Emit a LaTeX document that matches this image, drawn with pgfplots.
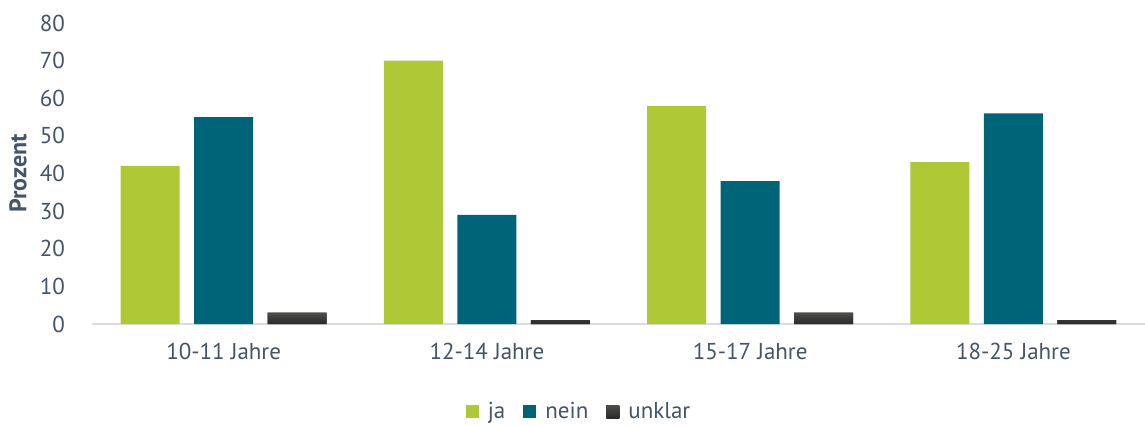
\documentclass[border=0pt]{standalone}
\usepackage{pgfplots}
\pgfplotsset{compat=1.18}
\usepackage{fontspec}
\setmainfont{PT Sans}
\definecolor{cja}{HTML}{AFC836}
\definecolor{cnein}{HTML}{006479}
\definecolor{cunk}{HTML}{2A2A26}
\definecolor{ctext}{HTML}{44546A}
\definecolor{cbase}{HTML}{D9DEE6}
\begin{document}
\begin{tikzpicture}
\path[use as bounding box] (0,0) rectangle (572.5pt,212.5pt);
\begin{axis}[
  at={(46pt,50.5pt)}, anchor=south west,
  scale only axis, width=526.5pt, height=150.5pt,
  ybar=7.25pt, bar width=29.5pt,
  xmin=-0.5, xmax=3.5, ymin=0, ymax=80,
  xtick={0,1,2,3},
  xticklabels={10-11 Jahre,12-14 Jahre,15-17 Jahre,18-25 Jahre},
  ytick={0,10,...,80},
  axis y line*=left,
  y axis line style={draw=none},
  axis x line*=bottom,
  x axis line style={draw=cbase, line width=1pt, -},
  major tick length=0pt,
  every tick label/.style={font=\fontsize{11.5}{13}\selectfont, text=ctext},
  /pgf/number format/assume math mode=true,
  yticklabel style={anchor=east, xshift=-10pt},
  xticklabel style={yshift=-6pt},
  ylabel={\bfseries Prozent},
  ylabel style={font=\fontsize{12}{14}\selectfont, text=ctext, at={(axis description cs:0,0.5)}, anchor=center, yshift=37pt},
  legend style={at={(0.4635,-0.292)}, anchor=center, draw=none, legend columns=-1,
    font=\fontsize{11.5}{13}\selectfont, text=ctext,
    /tikz/every even column/.append style={column sep=7pt},
    /tikz/every odd column/.append style={column sep=2.5pt}},
  legend image code/.code={\fill[#1] (0pt,-3.25pt) rectangle (6.5pt,3.25pt);},
  clip=false,
]
\addplot[draw=none, fill=cja] coordinates {(0,42) (1,70) (2,58) (3,43)};
\addplot[draw=none, fill=cnein] coordinates {(0,55) (1,29) (2,38) (3,56)};
\addplot[draw=none, top color=black!70, bottom color=cunk, fill=cunk] coordinates {(0,3) (1,1) (2,3) (3,1)};
\legend{ja,nein,unklar}
\end{axis}
\end{tikzpicture}
\end{document}
